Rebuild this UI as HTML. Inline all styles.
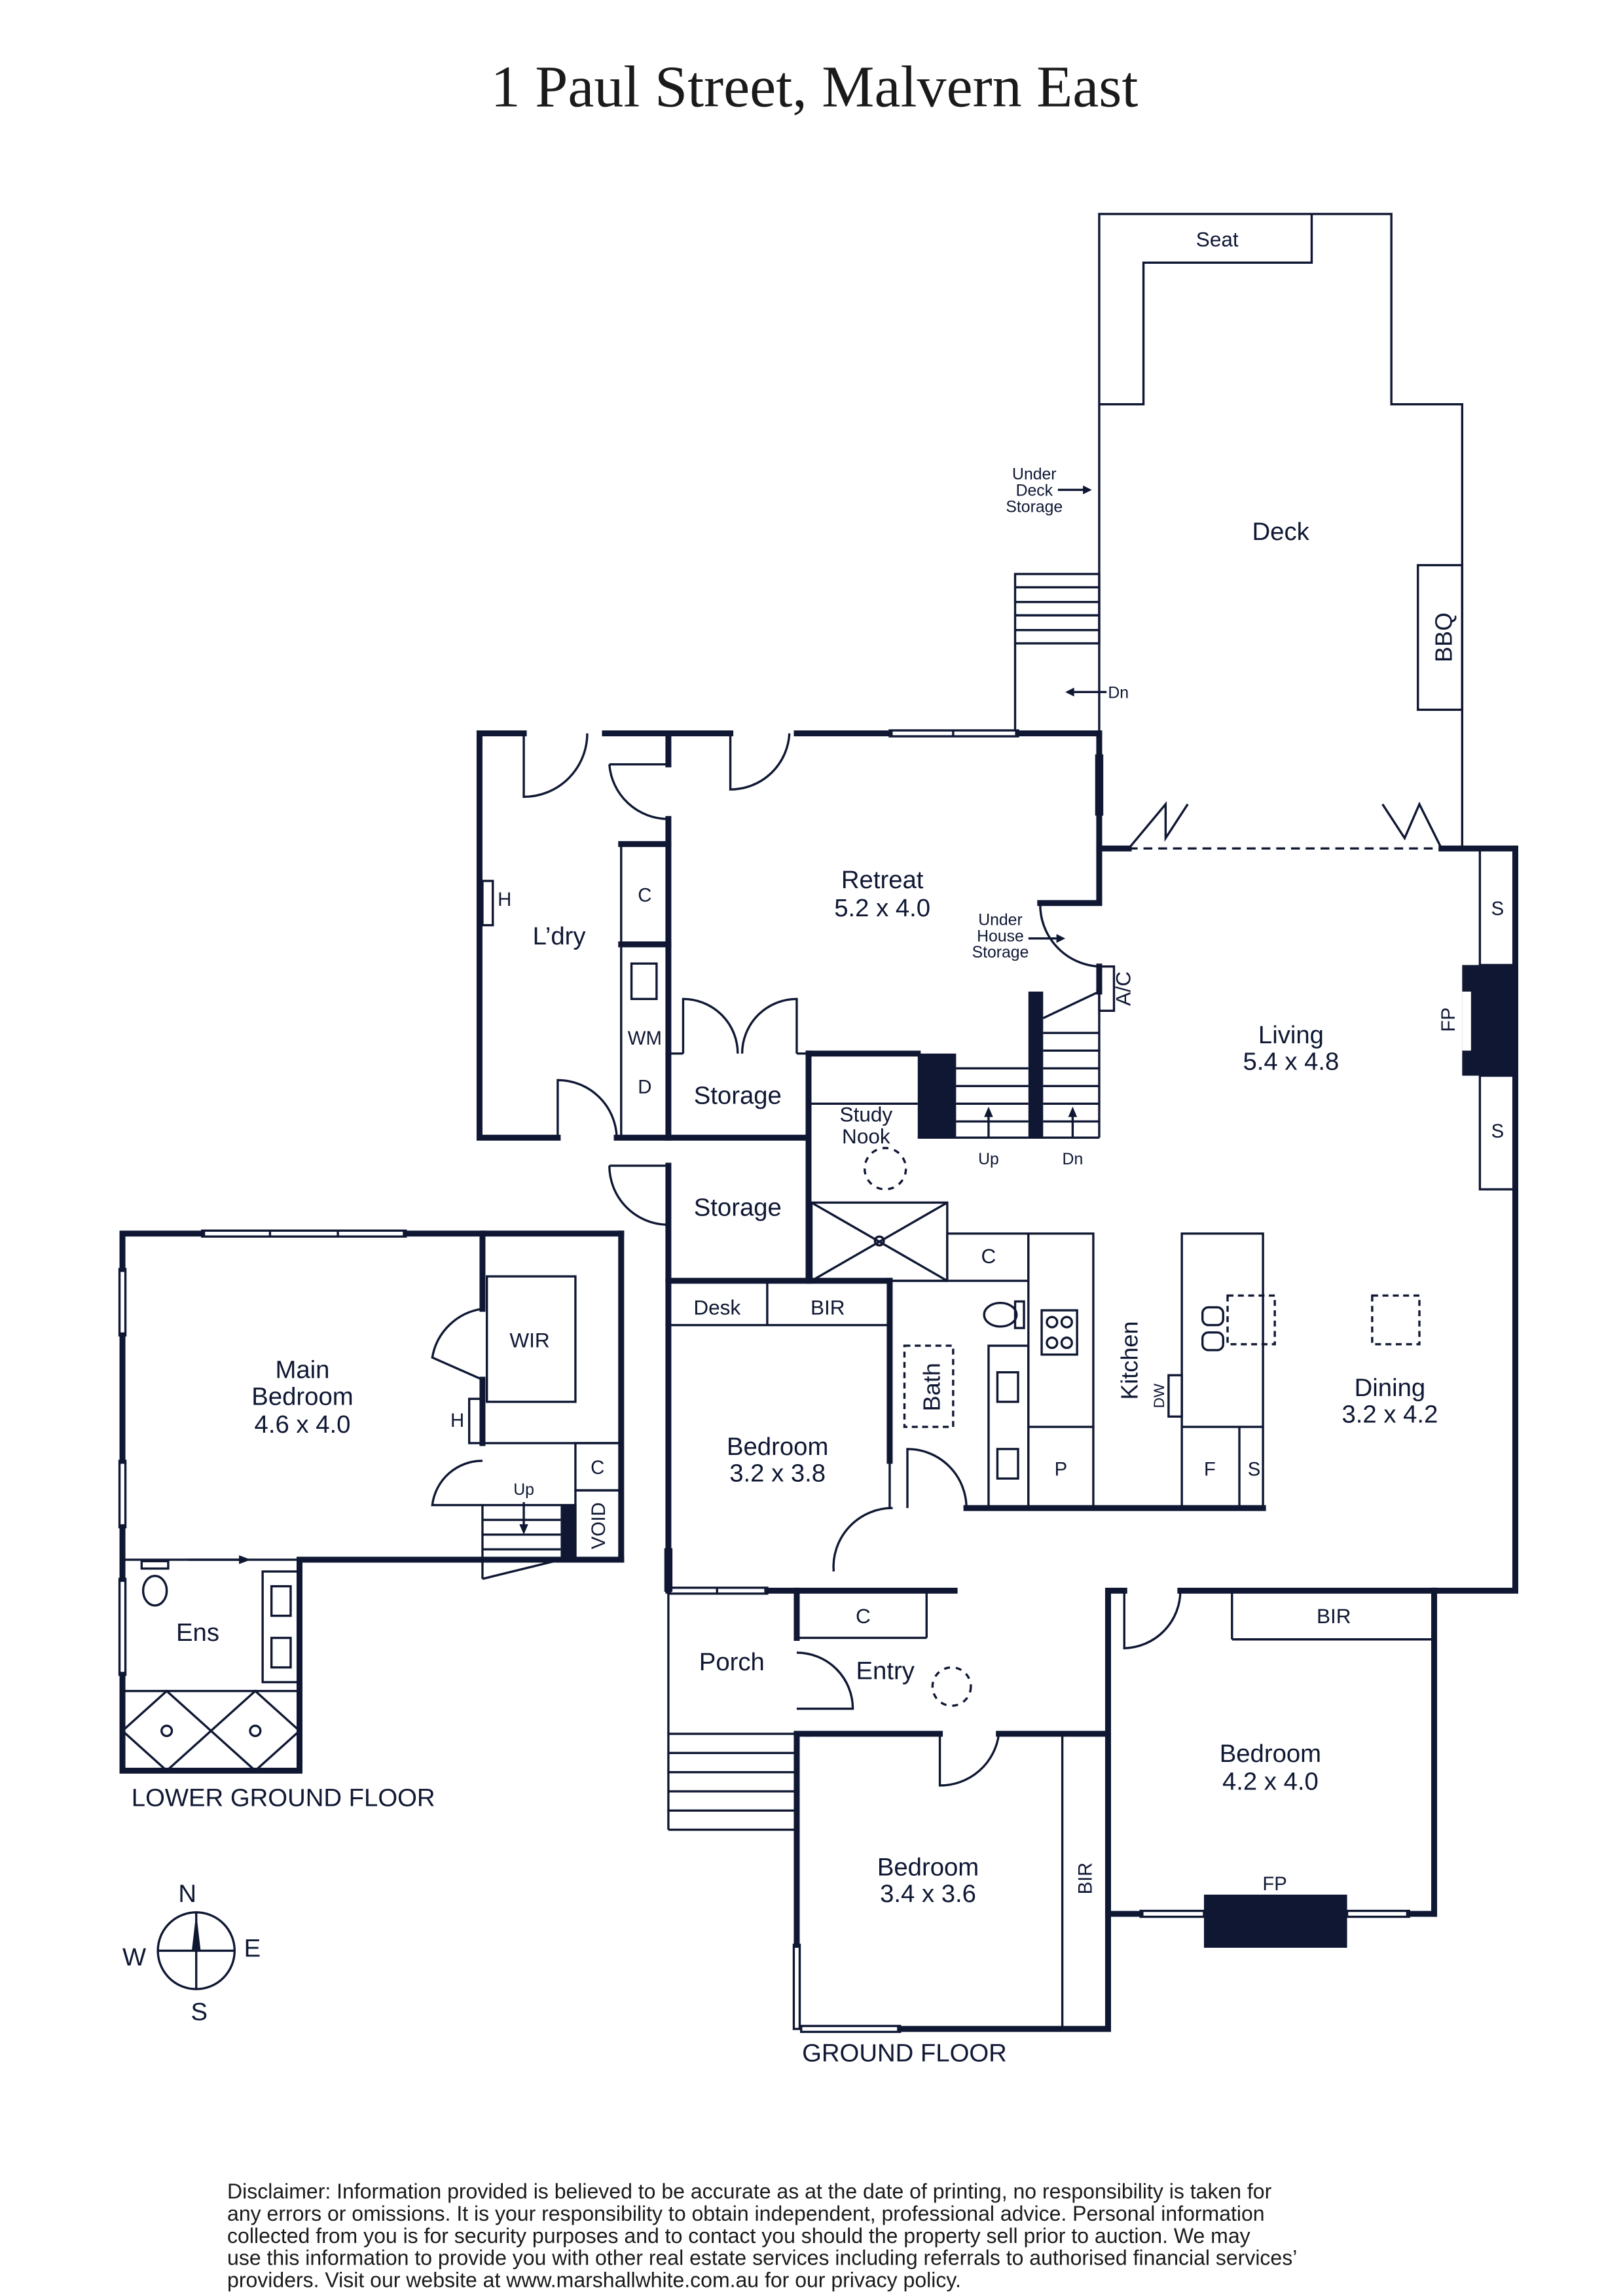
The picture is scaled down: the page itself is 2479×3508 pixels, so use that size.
<!DOCTYPE html>
<html><head><meta charset="utf-8"><style>html,body{margin:0;padding:0;background:#fff}svg{display:block}</style></head><body>
<svg width="2479" height="3508" viewBox="0 0 1100 1556" preserveAspectRatio="none" xmlns="http://www.w3.org/2000/svg" font-family="Liberation Sans, sans-serif" fill="none" stroke="#0f1733">
<rect x="0" y="0" width="1100" height="1556" fill="#fff" stroke="none"/>
<text x="552" y="72" font-family="Liberation Serif, serif" font-size="40" text-anchor="middle" fill="#1a1a1a" stroke="none">1 Paul Street, Malvern East</text>

<!-- Deck -->
<g stroke-width="1.5">
<polyline points="745,495 745,145 943,145 943,274 991,274 991,574"/>
<polyline points="745,274 775,274 775,178 889,178 889,145"/>
<rect x="961" y="383" width="30" height="98"/>
<rect x="688" y="389" width="57" height="47"/>
<line x1="688" y1="398" x2="745" y2="398"/><line x1="688" y1="408" x2="745" y2="408"/><line x1="688" y1="417" x2="745" y2="417"/><line x1="688" y1="427" x2="745" y2="427"/>
<line x1="688" y1="436" x2="688" y2="495"/>
<line x1="717" y1="332" x2="738" y2="332"/><line x1="728" y1="469" x2="750" y2="469"/>
<polyline points="765,575 790,545 790,568 805,545"/>
<polyline points="937,545 952,568 962,545 977,575"/>
<line x1="765" y1="575" x2="977" y2="575" stroke-dasharray="6,4"/>
</g>
<polygon points="740,332 734,329 734,335" fill="#0f1733" stroke="none"/>
<polygon points="722,469 728,466 728,472" fill="#0f1733" stroke="none"/>

<!-- thick walls -->
<g stroke-width="4" stroke-linecap="square">
<polyline points="355,497 325,497 325,771 378,771"/>
<polyline points="418,771 453,771 548,771"/>
<line x1="410" y1="497" x2="453" y2="497"/>
<line x1="453" y1="497" x2="453" y2="518"/>
<line x1="453" y1="497" x2="495" y2="497"/>
<line x1="540" y1="497" x2="603" y2="497"/>
<line x1="690" y1="497" x2="745" y2="497"/>
<polyline points="745,497 745,612 705,612"/>
<line x1="745" y1="655" x2="745" y2="672"/>
<line x1="745" y1="575" x2="765" y2="575"/>
<polyline points="977,575 1027,575 1027,1078 972,1078"/>
<line x1="453" y1="555" x2="453" y2="771"/>
<line x1="421" y1="572" x2="453" y2="572"/><line x1="421" y1="640" x2="453" y2="640"/>
<line x1="548" y1="714" x2="622" y2="714"/>
<line x1="548" y1="714" x2="548" y2="868"/>
<line x1="453" y1="790" x2="453" y2="1078"/>
<line x1="453" y1="868" x2="603" y2="868"/>
<line x1="603" y1="868" x2="603" y2="990"/>
<line x1="655" y1="1022" x2="856" y2="1022"/>
<line x1="520" y1="1078" x2="647" y2="1078"/>
<line x1="540" y1="1078" x2="540" y2="1110"/>
<polyline points="751,1375 751,1078 762,1078"/>
<line x1="800" y1="1078" x2="972" y2="1078"/>
<line x1="972" y1="1078" x2="972" y2="1297"/>
<line x1="751" y1="1297" x2="773" y2="1297"/><line x1="955" y1="1297" x2="972" y2="1297"/>
<line x1="540" y1="1175" x2="540" y2="1318"/>
<line x1="540" y1="1175" x2="637" y2="1175"/><line x1="677" y1="1175" x2="751" y2="1175"/>
<line x1="610" y1="1375" x2="751" y2="1375"/>
<line x1="548" y1="1175" x2="548" y2="1175"/>
<!-- lower ground -->
<polyline points="137,836 83,836 83,860"/>
<line x1="275" y1="836" x2="421" y2="836"/>
<line x1="421" y1="836" x2="421" y2="1057"/>
<line x1="83" y1="905" x2="83" y2="990"/><line x1="83" y1="1035" x2="83" y2="1070"/>
<polyline points="83,1135 83,1200 203,1200 203,1057 421,1057"/>
<line x1="327" y1="836" x2="327" y2="887"/><line x1="327" y1="935" x2="327" y2="978"/>
</g>
<!-- windows -->
<g stroke-width="1.5">
<rect x="603" y="495" width="87" height="4"/><line x1="646" y1="495" x2="646" y2="499"/>
<rect x="743" y="512" width="4" height="40"/>
<rect x="451" y="1050" width="4" height="28"/>
<rect x="453" y="1076" width="67" height="4"/><line x1="486" y1="1076" x2="486" y2="1080"/>
<rect x="773" y="1295" width="43" height="4"/><rect x="913" y="1295" width="42" height="4"/>
<rect x="538" y="1318" width="4" height="57"/>
<rect x="543" y="1373" width="67" height="4"/>
<rect x="137" y="834" width="138" height="4"/><line x1="183" y1="834" x2="183" y2="838"/><line x1="229" y1="834" x2="229" y2="838"/>
<rect x="81" y="860" width="4" height="45"/><rect x="81" y="990" width="4" height="45"/><rect x="81" y="1070" width="4" height="65"/>
</g>

<!-- thin fixtures -->
<g stroke-width="1.5">
<!-- doors -->
<path d="M355,497 L355,540 A43,43 0 0 0 398,497"/>
<path d="M413,518 A40,40 0 0 0 453,555"/><line x1="413" y1="518" x2="453" y2="518"/>
<path d="M495,497 L495,535 A40,40 0 0 0 535,497"/>
<path d="M705,612 A42,42 0 0 0 745,655"/>
<path d="M378,771 L378,732 A40,40 0 0 1 418,771"/>
<path d="M413,790 A40,40 0 0 0 453,830"/><line x1="413" y1="790" x2="453" y2="790"/>
<path d="M463,714 L463,677 A37,37 0 0 1 500,714"/><path d="M540,714 L540,677 A37,37 0 0 0 503,714"/>
<line x1="453" y1="714" x2="463" y2="714"/><line x1="540" y1="714" x2="548" y2="714"/>
<path d="M615,1022 L615,982 A40,40 0 0 1 655,1022"/>
<path d="M565,1065 A40,40 0 0 1 605,1022"/><line x1="603" y1="990" x2="603" y2="1022"/>
<path d="M762,1078 L762,1117 A39,39 0 0 0 800,1078"/>
<path d="M540,1120 A38,38 0 0 1 578,1158 L540,1158"/>
<line x1="578" y1="1158" x2="578" y2="1158"/>
<path d="M637,1175 L637,1210 A40,40 0 0 0 677,1175"/>
<path d="M327,887 A40,40 0 0 0 293,920 L327,935"/>
<path d="M327,990 A34,34 0 0 0 293,1020 L327,1020"/>
<!-- laundry column -->
<rect x="421" y="572" width="32" height="199"/>
<rect x="428" y="653" width="17" height="24"/>
<rect x="327" y="597" width="7" height="30"/>
<!-- stairs -->
<line x1="622" y1="771" x2="745" y2="771"/>
<line x1="648" y1="724" x2="697" y2="724"/><line x1="648" y1="736" x2="697" y2="736"/><line x1="648" y1="748" x2="697" y2="748"/><line x1="648" y1="760" x2="697" y2="760"/>
<line x1="707" y1="700" x2="745" y2="700"/><line x1="707" y1="712" x2="745" y2="712"/><line x1="707" y1="724" x2="745" y2="724"/><line x1="707" y1="736" x2="745" y2="736"/><line x1="707" y1="748" x2="745" y2="748"/><line x1="707" y1="760" x2="745" y2="760"/>
<polyline points="707,690 745,672 745,771"/>
<rect x="745" y="655" width="10" height="30"/>
<line x1="670" y1="771" x2="670" y2="755"/><line x1="727" y1="771" x2="727" y2="755"/>
<line x1="548" y1="748" x2="622" y2="748"/>
<circle cx="600" cy="792" r="14" stroke-dasharray="4,4"/>
<!-- skylight -->
<rect x="550" y="815" width="92" height="53"/>
<line x1="550" y1="815" x2="642" y2="868"/><line x1="642" y1="815" x2="550" y2="868"/>
<circle cx="596" cy="841" r="3"/>
<!-- desk bir -->
<line x1="453" y1="898" x2="603" y2="898"/><line x1="520" y1="868" x2="520" y2="898"/>
<!-- bath -->
<rect x="642" y="836" width="55" height="32"/>
<line x1="603" y1="868" x2="642" y2="868"/>
<rect x="613" y="912" width="33" height="55" stroke-dasharray="4,3"/>
<ellipse cx="678" cy="891" rx="11" ry="8"/><rect x="688" y="882" width="6" height="18"/>
<rect x="670" y="912" width="27" height="110"/>
<rect x="676" y="930" width="14" height="20"/><rect x="676" y="982" width="14" height="20"/>
<!-- kitchen -->
<rect x="697" y="836" width="44" height="186"/>
<line x1="697" y1="967" x2="741" y2="967"/>
<rect x="706" y="888" width="24" height="30"/>
<circle cx="713" cy="896" r="3.5"/><circle cx="723" cy="896" r="3.5"/><circle cx="713" cy="910" r="3.5"/><circle cx="723" cy="910" r="3.5"/>
<rect x="801" y="836" width="55" height="186"/>
<line x1="801" y1="967" x2="856" y2="967"/><line x1="840" y1="967" x2="840" y2="1022"/>
<rect x="832" y="878" width="32" height="33" stroke-dasharray="4,3"/>
<rect x="815" y="886" width="14" height="12" rx="4"/><rect x="815" y="903" width="14" height="12" rx="4"/>
<rect x="792" y="932" width="9" height="28"/>
<rect x="930" y="878" width="32" height="33" stroke-dasharray="4,3"/>
<rect x="1003" y="574" width="24" height="80"/><rect x="1003" y="729" width="24" height="77"/>
<!-- bir bedroom -->
<line x1="835" y1="1078" x2="835" y2="1111"/><line x1="835" y1="1111" x2="972" y2="1111"/>
<!-- entry -->
<line x1="540" y1="1110" x2="628" y2="1110"/><line x1="628" y1="1078" x2="628" y2="1110"/>
<circle cx="645" cy="1143" r="13" stroke-dasharray="4,4"/>
<line x1="453" y1="1078" x2="453" y2="1240"/>
<line x1="453" y1="1175" x2="540" y2="1175"/><line x1="453" y1="1188" x2="540" y2="1188"/><line x1="453" y1="1201" x2="540" y2="1201"/><line x1="453" y1="1214" x2="540" y2="1214"/><line x1="453" y1="1227" x2="540" y2="1227"/><line x1="453" y1="1240" x2="540" y2="1240"/>
<line x1="720" y1="1175" x2="720" y2="1375"/>
<!-- lower ground fixtures -->
<rect x="330" y="865" width="60" height="85"/>
<line x1="327" y1="978" x2="421" y2="978"/>
<rect x="390" y="978" width="31" height="32"/><rect x="390" y="1010" width="31" height="47"/>
<rect x="318" y="948" width="9" height="30"/>
<rect x="327" y="1020" width="63" height="37"/>
<line x1="327" y1="1030" x2="380" y2="1030"/><line x1="327" y1="1040" x2="380" y2="1040"/><line x1="327" y1="1050" x2="380" y2="1050"/>
<line x1="327" y1="1057" x2="327" y2="1070"/><line x1="327" y1="1070" x2="380" y2="1057"/>
<line x1="355" y1="1018" x2="355" y2="1036"/>
<line x1="83" y1="1057" x2="203" y2="1057"/>
<line x1="128" y1="1057" x2="162" y2="1057"/>
<ellipse cx="105" cy="1078" rx="8" ry="10"/><rect x="96" y="1058" width="18" height="5"/>
<rect x="178" y="1065" width="25" height="75"/>
<rect x="184" y="1075" width="13" height="20"/><rect x="184" y="1110" width="13" height="20"/>
<rect x="83" y="1146" width="120" height="54"/>
<line x1="143" y1="1146" x2="143" y2="1200" stroke-width="0"/>
<polyline points="83,1173 113,1146 143,1173 113,1200 83,1173"/>
<polyline points="143,1173 173,1146 203,1173 173,1200 143,1173"/>
<circle cx="113" cy="1173" r="3.5"/><circle cx="173" cy="1173" r="3.5"/>
<!-- compass -->
<circle cx="133" cy="1322" r="26"/>
<line x1="107" y1="1322" x2="159" y2="1322"/><line x1="133" y1="1296" x2="133" y2="1348"/>
</g>
<g fill="#0f1733" stroke="none">
<rect x="622" y="714" width="26" height="57"/>
<rect x="697" y="672" width="10" height="99"/>
<rect x="991" y="654" width="36" height="75"/>
<rect x="816" y="1284" width="97" height="36"/>
<rect x="380" y="1020" width="10" height="37"/>
<polygon points="670,750 667,757 673,757"/><polygon points="727,750 724,757 730,757"/>
<polygon points="355,1040 352,1033 358,1033"/>
<polygon points="170,1057 162,1054 162,1060"/>
<polygon points="722,636 716,633 716,639"/>
<polygon points="133,1296 130,1322 136,1322"/>
</g>
<rect x="991" y="672" width="6" height="40" fill="#fff" stroke="none"/>
<line x1="697" y1="636" x2="716" y2="636" stroke-width="1.5"/>

<g fill="#0f1733" stroke="none" font-size="17" text-anchor="middle">
<text x="825" y="167" font-size="14">Seat</text>
<text x="868" y="366">Deck</text>
<text x="984" y="432" transform="rotate(-90 984 432)" font-size="16">BBQ</text>
<text x="701" y="325" font-size="11">Under</text><text x="701" y="336" font-size="11">Deck</text><text x="701" y="347" font-size="11">Storage</text>
<text x="758" y="473" font-size="11">Dn</text>
<text x="598" y="602">Retreat</text><text x="598" y="621">5.2 x 4.0</text>
<text x="678" y="627" font-size="11">Under</text><text x="678" y="638" font-size="11">House</text><text x="678" y="649" font-size="11">Storage</text>
<text x="766" y="670" transform="rotate(-90 766 670)" font-size="14">A/C</text>
<text x="875" y="707">Living</text><text x="875" y="725">5.4 x 4.8</text>
<text x="986" y="691" transform="rotate(-90 986 691)" font-size="13">FP</text>
<text x="1015" y="620" font-size="13">S</text><text x="1015" y="771" font-size="13">S</text>
<text x="379" y="640">L’dry</text>
<text x="342" y="614" font-size="13">H</text>
<text x="437" y="611" font-size="13">C</text>
<text x="437" y="708" font-size="13">WM</text>
<text x="437" y="741" font-size="13">D</text>
<text x="500" y="748">Storage</text>
<text x="500" y="824">Storage</text>
<text x="587" y="760" font-size="14">Study</text><text x="587" y="775" font-size="14">Nook</text>
<text x="670" y="789" font-size="11">Up</text><text x="727" y="789" font-size="11">Dn</text>
<text x="670" y="856" font-size="14">C</text>
<text x="486" y="891" font-size="14">Desk</text>
<text x="561" y="891" font-size="14">BIR</text>
<text x="637" y="940" transform="rotate(-90 637 940)" font-size="16">Bath</text>
<text x="771" y="922" transform="rotate(-90 771 922)" font-size="16">Kitchen</text>
<text x="789" y="946" transform="rotate(-90 789 946)" font-size="10">DW</text>
<text x="719" y="1000" font-size="13">P</text>
<text x="820" y="1000" font-size="13">F</text>
<text x="850" y="1000" font-size="13">S</text>
<text x="942" y="946">Dining</text><text x="942" y="964">3.2 x 4.2</text>
<text x="527" y="986">Bedroom</text><text x="527" y="1004">3.2 x 3.8</text>
<text x="904" y="1100" font-size="14">BIR</text>
<text x="585" y="1100" font-size="14">C</text>
<text x="496" y="1132">Porch</text>
<text x="600" y="1138">Entry</text>
<text x="861" y="1194">Bedroom</text><text x="861" y="1213">4.2 x 4.0</text>
<text x="864" y="1281" font-size="13">FP</text>
<text x="629" y="1271">Bedroom</text><text x="629" y="1289">3.4 x 3.6</text>
<text x="740" y="1273" transform="rotate(-90 740 1273)" font-size="13">BIR</text>
<text x="613" y="1397" text-anchor="middle">GROUND FLOOR</text>
<text x="205" y="934">Main</text><text x="205" y="952">Bedroom</text><text x="205" y="971">4.6 x 4.0</text>
<text x="359" y="913" font-size="14">WIR</text>
<text x="310" y="967" font-size="13">H</text>
<text x="405" y="999" font-size="13">C</text>
<text x="410" y="1034" transform="rotate(-90 410 1034)" font-size="13">VOID</text>
<text x="355" y="1013" font-size="11">Up</text>
<text x="134" y="1112">Ens</text>
<text x="192" y="1224">LOWER GROUND FLOOR</text>
<text x="127" y="1289">N</text><text x="171" y="1326">E</text><text x="135" y="1369">S</text><text x="91" y="1332">W</text>
</g>
<g fill="#1a1a1a" stroke="none" font-size="14.2">
<text x="154" y="1490">Disclaimer: Information provided is believed to be accurate as at the date of printing, no responsibility is taken for</text>
<text x="154" y="1505">any errors or omissions. It is your responsibility to obtain independent, professional advice. Personal information</text>
<text x="154" y="1520">collected from you is for security purposes and to contact you should the property sell prior to auction. We may</text>
<text x="154" y="1535">use this information to provide you with other real estate services including referrals to authorised financial services’</text>
<text x="154" y="1550">providers. Visit our website at www.marshallwhite.com.au for our privacy policy.</text>
</g>
</svg>
</body></html>
